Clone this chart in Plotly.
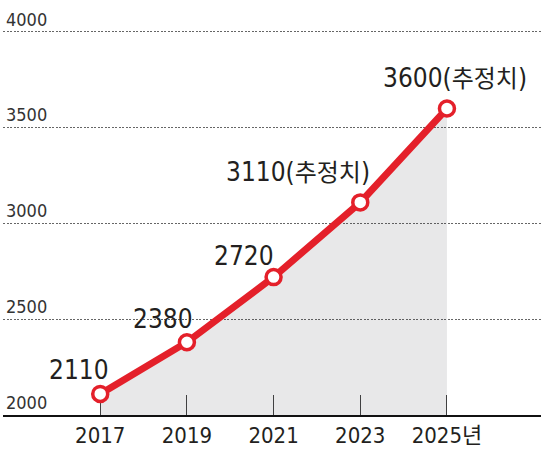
import plotly.graph_objects as go

years = [2017, 2019, 2021, 2023, 2025]
values = [2110, 2380, 2720, 3110, 3600]
point_labels = ["2110", "2380", "2720", "3110(추정치)", "3600(추정치)"]
x_tick_text = ["2017", "2019", "2021", "2023", "2025년"]
y_tick_vals = [2000, 2500, 3000, 3500, 4000]
y_tick_text = ["2000", "2500", "3000", "3500", "4000"]

RED = "#e4202a"
TXT = "#231f20"
FONT = "DejaVu Sans Condensed, Noto Sans CJK KR, sans-serif"

def fmt(s):
    if "(" in s:
        num, rest = s.split("(", 1)
        inner = rest.rstrip(")")
        return f"{num}(<span style='font-family:Noto Sans CJK KR;font-size:24px'>{inner}</span>)"
    return s

fig = go.Figure()
fig.add_trace(go.Scatter(
    x=years, y=values, mode="lines+markers",
    line=dict(color=RED, width=7),
    marker=dict(size=15, color="white", line=dict(color=RED, width=3.5)),
    fill="tozeroy", fillcolor="rgba(35,40,50,0.105)",
    hoverinfo="skip", showlegend=False,
))

xanchors = ["right", "right", "right", "right", "center"]
xshifts = [11, 8, 2, 12, 8]
yshifts = [7, 6, 4, 12, 13]
for x, y, t, xa, xs, ys in zip(years, values, point_labels, xanchors, xshifts, yshifts):
    fig.add_annotation(x=x, y=y, xref="x", yref="y", text=fmt(t), showarrow=False,
                       xanchor=xa, yanchor="bottom", xshift=xs, yshift=ys,
                       font=dict(family=FONT, size=26, color=TXT))

fig.update_xaxes(
    range=[2014.757, 2027.17], tickvals=years, ticktext=x_tick_text,
    ticks="inside", ticklen=20, tickcolor="#444", tickwidth=1,
    showline=True, linecolor="#111", linewidth=2, showgrid=False, zeroline=False,
    layer="below traces", automargin=False,
    tickfont=dict(family=FONT, size=22, color=TXT),
)
fig.update_yaxes(
    range=[2000, 4010], tickvals=y_tick_vals, ticktext=y_tick_text,
    showgrid=True, gridcolor="#666", gridwidth=1, griddash="2px,1.5px",
    zeroline=False, showline=False, ticks="", automargin=False,
    ticklabelposition="inside top", ticklabeloverflow="allow",
    tickfont=dict(family=FONT, size=18, color="#333"),
)
fig.update_layout(
    width=543, height=451, margin=dict(l=3, r=2, t=30, b=36),
    plot_bgcolor="white", paper_bgcolor="white",
)
fig.write_html("out.html", config={"displayModeBar": False},
               post_script="document.body.style.margin='0';")
